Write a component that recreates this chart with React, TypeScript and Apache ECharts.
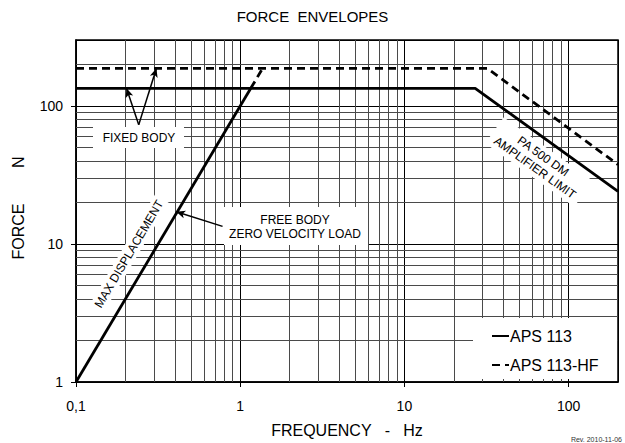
import React, { useEffect, useRef } from 'react';
import * as echarts from 'echarts';

const FONT = '"Liberation Sans", Arial, sans-serif';

const titleText = 'FORCE  ENVELOPES';
const xName = 'FREQUENCY   -   Hz';
const yName = 'FORCE        N';

const xMajor = [0.1, 1, 10, 100];
const xMajorLabels = ['0,1', '1', '10', '100'];
const yMajor = [1, 10, 100];
const yMajorLabels = ['1', '10', '100'];
const xMinor = [0.2, 0.3, 0.4, 0.5, 0.6, 0.7, 0.8, 0.9, 2, 3, 4, 5, 6, 7, 8, 9, 20, 30, 40, 50, 60, 70, 80, 90];
const yMinor = [2, 3, 4, 5, 6, 7, 8, 9, 20, 30, 40, 50, 60, 70, 80, 90, 200];

// APS 113 (solid)
const aps113Amp = [[0.1, 134], [27, 134], [200, 24]];
const aps113Disp = [[0.1, 1], [1.16, 134]];
// APS 113-HF (dashed)
const aps113hfAmp = [[0.1, 187], [32, 187], [200, 37.5]];
const aps113hfDisp = [[1.16, 134], [1.37, 187]];

// annotation arrows [from, to] in data units
const arrows = [
  [[0.241, 72.9], [0.203, 134]],
  [[0.241, 72.9], [0.309, 187]],
  [[0.781, 13.4], [0.408, 17.1]],
];

export default function App() {
  const ref = useRef<HTMLDivElement>(null);
  useEffect(() => {
    if (!ref.current) return;
    const chart = echarts.init(ref.current, undefined, { renderer: 'svg' });
    const fmt = (majors: number[], labels: string[]) => (v: number) => {
      for (let i = 0; i < majors.length; i++) {
        if (Math.abs(v - majors[i]) / majors[i] < 1e-6) return labels[i];
      }
      return '';
    };
    const lineW = 2.8;
    chart.setOption({
      animation: false,
      textStyle: { fontFamily: FONT, color: '#000' },
      title: {
        text: titleText,
        left: 'center',
        top: 4,
        textStyle: { fontSize: 15, fontWeight: 'normal', color: '#000', fontFamily: FONT },
      },
      grid: { left: 76, right: 7, top: 40, bottom: 60, show: true, borderColor: '#000', borderWidth: 1.5, backgroundColor: '#fff', z: 0 },
      legend: {
        orient: 'vertical',
        left: 491,
        top: 328,
        padding: 0,
        itemWidth: 17,
        itemHeight: 14,
        itemGap: 13,
        z: 10,
        itemStyle: { color: 'transparent', borderWidth: 0, opacity: 0 },
        textStyle: { fontSize: 16, color: '#000', fontFamily: FONT, padding: [0, 0, 0, -4] },
        data: ['APS 113', 'APS 113-HF'],
      },
      xAxis: {
        type: 'log',
        logBase: 10,
        min: 0.1,
        max: 200,
        name: xName,
        nameLocation: 'middle',
        nameGap: 40,
        nameTextStyle: { fontSize: 16, color: '#000', fontFamily: FONT },
        axisLine: { show: true, lineStyle: { color: '#000', width: 1.5 } },
        axisTick: { show: true, length: 5, lineStyle: { color: '#000', width: 1 } },
        minorTick: { show: false },
        axisLabel: { formatter: fmt(xMajor, xMajorLabels), fontSize: 14, color: '#000', margin: 17, fontFamily: FONT, showMaxLabel: false },
        splitLine: { show: true, lineStyle: { color: '#000', width: 1 } },
      },
      yAxis: {
        type: 'log',
        logBase: 10,
        min: 1,
        max: 300,
        name: yName,
        nameLocation: 'middle',
        nameGap: 50,
        nameTextStyle: { fontSize: 16, color: '#000', fontFamily: FONT, padding: [0, 0, 0, 6] },
        axisLine: { show: true, lineStyle: { color: '#000', width: 1.5 } },
        axisTick: { show: true, length: 5, lineStyle: { color: '#000', width: 1 } },
        axisLabel: { formatter: fmt(yMajor, yMajorLabels), fontSize: 14, color: '#000', margin: 13, fontFamily: FONT, showMaxLabel: false },
        splitLine: { show: true, lineStyle: { color: '#000', width: 1 } },
      },
      series: [
        {
          type: 'line',
          name: 'grid-minor',
          data: [],
          z: 1,
          silent: true,
          markLine: {
            silent: true,
            z: 1,
            symbol: 'none',
            label: { show: false },
            animation: false,
            lineStyle: { color: '#4a4a4a', width: 1, type: 'solid' },
            data: [
              ...xMinor.map((v) => ({ xAxis: v })),
              ...yMinor.map((v) => ({ yAxis: v })),
            ],
          },
        },
        {
          type: 'line',
          name: 'APS 113',
          data: aps113Amp,
          symbol: 'none',
          z: 5,
          lineStyle: { color: '#000', width: lineW, type: 'solid' },
          itemStyle: { color: '#000' },
        },
        {
          type: 'line',
          name: 'APS 113',
          data: aps113Disp,
          symbol: 'none',
          z: 5,
          lineStyle: { color: '#000', width: lineW, type: 'solid' },
          itemStyle: { color: '#000' },
        },
        {
          type: 'line',
          name: 'APS 113-HF',
          data: aps113hfAmp,
          symbol: 'none',
          z: 5,
          lineStyle: { color: '#000', width: lineW, type: [8, 5] },
          itemStyle: { color: '#000' },
        },
        {
          type: 'line',
          name: 'APS 113-HF',
          data: aps113hfDisp,
          symbol: 'none',
          z: 5,
          lineStyle: { color: '#000', width: lineW, type: [8, 5] },
          itemStyle: { color: '#000' },
        },
        {
          type: 'line',
          name: 'arrows',
          data: [],
          z: 6,
          silent: true,
          markLine: {
            silent: true,
            z: 6,
            symbol: ['none', 'arrow'],
            symbolSize: [6, 9],
            label: { show: false },
            animation: false,
            lineStyle: { color: '#000', width: 1.5, type: 'solid' },
            data: arrows.map((a) => [{ coord: a[0] }, { coord: a[1] }]),
          },
        },
      ],
      graphic: [
        { type: 'rect', z: 3, shape: { x: 93, y: 127, width: 91, height: 21 }, style: { fill: '#fff' }, silent: true },
        {
          type: 'text', z: 7, x: 139, y: 138,
          style: { text: 'FIXED BODY', font: `12px ${FONT}`, fill: '#000', textAlign: 'center', textVerticalAlign: 'middle', align: 'center', verticalAlign: 'middle' },
        },
        { type: 'rect', z: 3, shape: { x: 224, y: 207, width: 144, height: 38 }, style: { fill: '#fff' }, silent: true },
        {
          type: 'text', z: 7, x: 295, y: 227,
          style: { text: 'FREE BODY\nZERO VELOCITY LOAD', lineHeight: 14, font: `12px ${FONT}`, fill: '#000', textAlign: 'center', textVerticalAlign: 'middle', align: 'center', verticalAlign: 'middle' },
        },
        {
          type: 'text', z: 4, x: 129, y: 254, rotation: (59.3 * Math.PI) / 180,
          style: { text: 'MAX DISPLACEMENT', font: `12px ${FONT}`, fill: '#000', backgroundColor: '#fff', padding: [2, 3], textAlign: 'center', textVerticalAlign: 'middle', align: 'center', verticalAlign: 'middle' },
        },
        {
          type: 'text', z: 4, x: 539, y: 162, rotation: (-35.5 * Math.PI) / 180,
          style: { text: 'PA 500 DM\nAMPLIFIER LIMIT', lineHeight: 14, font: `12px ${FONT}`, fill: '#000', backgroundColor: '#fff', padding: [2, 6], textAlign: 'center', textVerticalAlign: 'middle', align: 'center', verticalAlign: 'middle' },
        },
        { type: 'rect', z: 3, shape: { x: 473, y: 318, width: 144, height: 61 }, style: { fill: '#fff' }, silent: true },
        {
          type: 'text', z: 7, x: 622, y: 439,
          style: { text: 'Rev. 2010-11-06', font: `7px ${FONT}`, fill: '#333', textAlign: 'right', textVerticalAlign: 'middle', align: 'right', verticalAlign: 'middle' },
        },
      ],
    });
    return () => chart.dispose();
  }, []);
  return <div ref={ref} style={{ width: 625, height: 443, position: 'absolute', left: 0, top: 0 }} />;
}
